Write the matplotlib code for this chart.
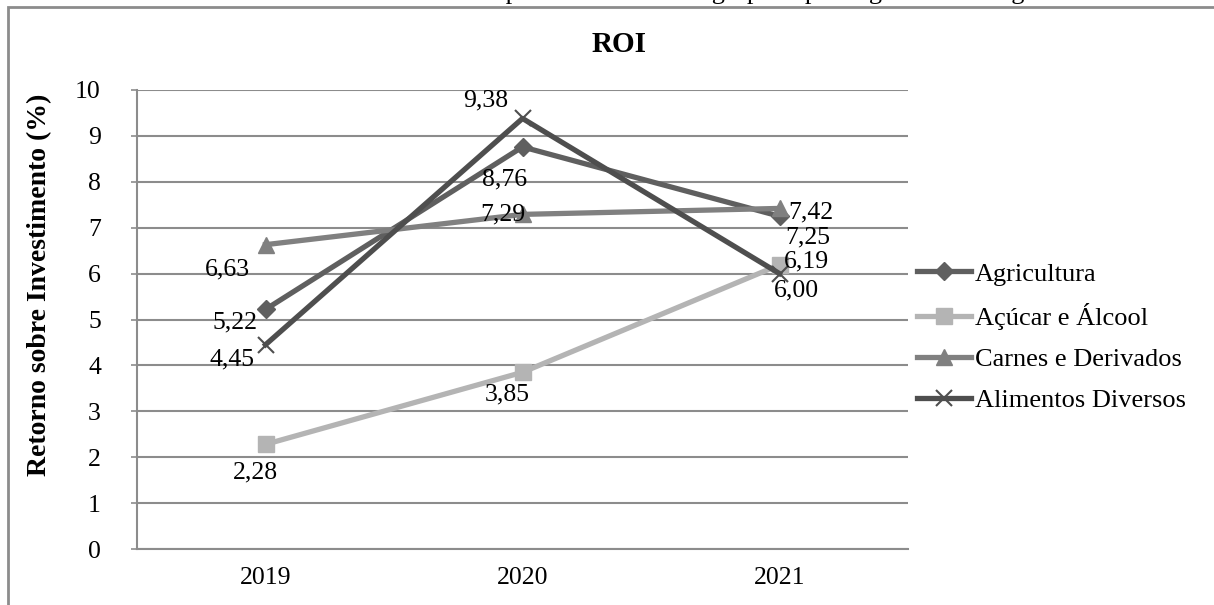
import matplotlib.pyplot as plt
from matplotlib.patches import Rectangle

plt.rcParams['font.family'] = ['Liberation Serif', 'DejaVu Serif']

years = ['2019', '2020', '2021']
agricultura = [5.22, 8.76, 7.25]
acucar = [2.28, 3.85, 6.19]
carnes = [6.63, 7.29, 7.42]
alimentos = [4.45, 9.38, 6.00]

# (name, values, colour, marker, marker size, label offsets in px)
series = [
    ('Agricultura', agricultura, '#5f5f5f', 'D', 9, [(-30, -13), (-18, -33), (28, -21)]),
    ('Açúcar e Álcool', acucar, '#b4b4b4', 's', 11, [(-10, -28), (-15, -22), (27, 3)]),
    ('Carnes e Derivados', carnes, '#808080', '^', 12, [(-38, -25), (-20, 0), (31, -4)]),
    ('Alimentos Diversos', alimentos, '#4e4e4e', 'x', 12, [(-33, -15), (-37, 18), (17, -17)]),
]

fig = plt.figure(figsize=(12.14, 6.05), dpi=100)
ax = fig.add_axes([137 / 1214, 1 - 549 / 605, (908 - 137) / 1214, (549 - 90) / 605])

x = list(range(len(years)))
px = 72 / 100
for name, vals, color, marker, ms, offs in series:
    ax.plot(x, vals, color=color, lw=3.8, marker=marker, ms=ms,
            mew=1.5 if marker == 'x' else 1, mec=color, mfc=color, label=name, zorder=3)
    for xi, v, (dx, dy) in zip(x, vals, offs):
        ax.annotate(f'{v:.2f}'.replace('.', ','), (xi, v), xytext=(dx * px, dy * px),
                    textcoords='offset points', ha='center', va='center', fontsize=18.5, zorder=4)

ax.set_xlim(-0.5, 2.5)
ax.set_ylim(0, 10)
ax.set_yticks(range(0, 11))
ax.set_xticks(x)
ax.set_xticklabels(years)
ax.tick_params(axis='y', labelsize=18.5, length=4, color='#8c8c8c', width=1.2, pad=22)
ax.tick_params(axis='x', labelsize=18.5, length=0, pad=13)
ax.grid(axis='y', color='#8c8c8c', lw=1.5)
ax.set_axisbelow(True)
for s in ['top', 'right']:
    ax.spines[s].set_visible(False)
for s in ['left', 'bottom']:
    ax.spines[s].set_color('#8c8c8c')
    ax.spines[s].set_linewidth(1.5)

fig.text(40 / 1214, 1 - 285 / 605, 'Retorno sobre Investimento (%)', rotation=90,
         ha='center', va='center', fontsize=20, fontweight='bold')
fig.text(619 / 1214, 1 - 45 / 605, 'ROI', ha='center', va='center', fontsize=21, fontweight='bold')

# caption line above the chart, cut off by the top edge as in the source page
fig.text(4 / 1214, 1 + 0.5 / 605,
         'Gráfico 3 – Retorno sobre Investimento das empresas da amostra agrupado por segmento de negócios.',
         ha='left', va='baseline', fontsize=19)

fig.patches.append(Rectangle((8 / 1214, -0.05), 1.1, 1 - 7 / 605 + 0.05, transform=fig.transFigure,
                             fill=False, ec='#8c8c8c', lw=2))

fig.legend(loc='center left', bbox_to_anchor=(917 / 1214, 1 - 337 / 605), frameon=False,
           fontsize=19, handlelength=2.05, handletextpad=0.15, labelspacing=0.66, borderpad=0,
           borderaxespad=0)

fig.savefig('out.png', dpi=100)
